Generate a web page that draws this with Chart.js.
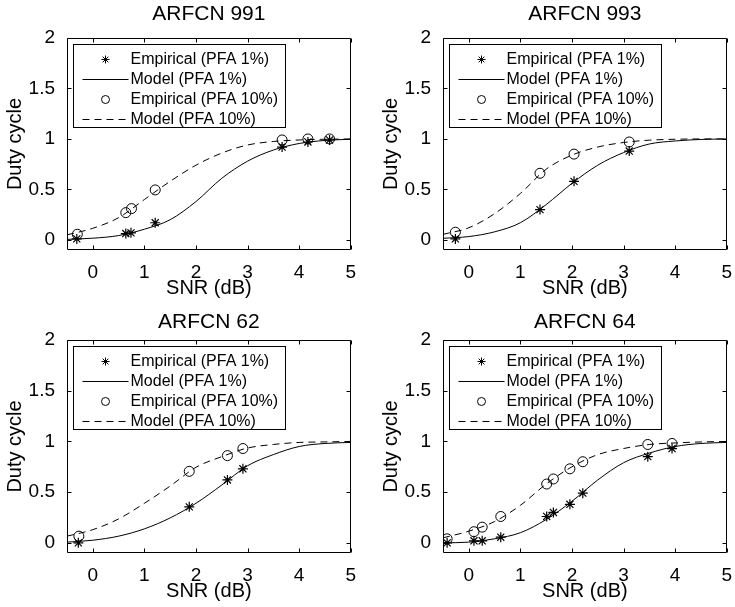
<!DOCTYPE html>
<html>
<head>
<meta charset="utf-8">
<script src="https://cdn.jsdelivr.net/npm/chart.js@4.4.1/dist/chart.umd.min.js"></script>
<style>
  html, body { margin: 0; padding: 0; background: #fff; overflow: hidden; }
  #fig { position: relative; width: 735px; height: 607px; background: #fff; }
  .panel { position: absolute; }
</style>
</head>
<body>
<div id="fig">
  <canvas id="c991" class="panel" width="359" height="302" style="left:0;top:0"></canvas>
  <canvas id="c993" class="panel" width="359" height="302" style="left:376px;top:0"></canvas>
  <canvas id="c62" class="panel" width="359" height="303" style="left:0;top:302px"></canvas>
  <canvas id="c64" class="panel" width="359" height="303" style="left:376px;top:302px"></canvas>
</div>
<script>
// axis ticks
const xTicks = [0, 1, 2, 3, 4, 5];
const yTicks = [0, 0.5, 1, 1.5, 2];

const modelSnr = [-0.5, 0, 0.5, 1, 1.5, 2, 2.5, 3, 3.5, 4, 4.5, 5];

// ARFCN 991
const snr991Pfa1 = [-0.31, 0.64, 0.74, 1.21, 3.67, 4.17, 4.59];
const duty991Pfa1 = [0.01, 0.063, 0.07, 0.17, 0.92, 0.97, 0.99];
const snr991Pfa10 = [-0.3, 0.64, 0.75, 1.21, 3.67, 4.17, 4.59];
const duty991Pfa10 = [0.056, 0.27, 0.31, 0.495, 0.99, 1.0, 1.0];
const model991Pfa1 = [0.005, 0.017, 0.043, 0.106, 0.2, 0.38, 0.61, 0.78, 0.89, 0.955, 0.985, 0.997];
const model991Pfa10 = [0.05, 0.115, 0.22, 0.4, 0.58, 0.74, 0.86, 0.94, 0.975, 0.99, 0.997, 1.0];

// ARFCN 993
const snr993Pfa1 = [-0.26, 1.38, 2.04, 3.11];
const duty993Pfa1 = [0.01, 0.30, 0.58, 0.88];
const snr993Pfa10 = [-0.26, 1.38, 2.04, 3.11];
const duty993Pfa10 = [0.076, 0.66, 0.85, 0.97];
const model993Pfa1 = [0.016, 0.033, 0.08, 0.17, 0.35, 0.56, 0.74, 0.865, 0.95, 0.98, 0.995, 1.0];
const model993Pfa10 = [0.055, 0.12, 0.26, 0.46, 0.70, 0.84, 0.92, 0.965, 0.988, 0.997, 1.0, 1.0];

// ARFCN 62
const snr62Pfa1 = [-0.28, 1.87, 2.61, 2.91];
const duty62Pfa1 = [0.0, 0.355, 0.62, 0.73];
const snr62Pfa10 = [-0.27, 1.87, 2.61, 2.91];
const duty62Pfa10 = [0.066, 0.705, 0.86, 0.93];
const model62Pfa1 = [0.007, 0.026, 0.066, 0.138, 0.246, 0.39, 0.57, 0.76, 0.87, 0.95, 0.98, 0.99];
const model62Pfa10 = [0.066, 0.13, 0.236, 0.39, 0.56, 0.745, 0.85, 0.935, 0.97, 0.99, 0.995, 1.0];

// ARFCN 64
const snr64Pfa1 = [-0.42, 0.1, 0.26, 0.62, 1.51, 1.64, 1.96, 2.21, 3.47, 3.94];
const duty64Pfa1 = [0.0, 0.02, 0.02, 0.056, 0.26, 0.30, 0.38, 0.49, 0.85, 0.93];
const snr64Pfa10 = [-0.42, 0.1, 0.26, 0.62, 1.51, 1.64, 1.96, 2.21, 3.47, 3.94];
const duty64Pfa10 = [0.04, 0.11, 0.155, 0.26, 0.58, 0.63, 0.73, 0.80, 0.97, 0.98];
const model64Pfa1 = [0.0, 0.007, 0.04, 0.1, 0.23, 0.41, 0.62, 0.79, 0.885, 0.95, 0.98, 0.99];
const model64Pfa10 = [0.05, 0.115, 0.21, 0.37, 0.58, 0.75, 0.87, 0.93, 0.97, 0.985, 0.995, 1.0];

const FONT = '"Liberation Sans", Arial, Helvetica, sans-serif';

function pts(xs, ys) {
    return xs.map((x, i) => ({ x: x, y: ys[i] }));
}

function drawStar(ctx, x, y, r) {
    const d = r * Math.SQRT1_2;
    ctx.beginPath();
    ctx.moveTo(x - r, y); ctx.lineTo(x + r, y);
    ctx.moveTo(x, y - r); ctx.lineTo(x, y + r);
    ctx.moveTo(x - d, y - d); ctx.lineTo(x + d, y + d);
    ctx.moveTo(x - d, y + d); ctx.lineTo(x + d, y - d);
    ctx.stroke();
}

// matlab style box with inward ticks, plus the legend inside the axes
const axesBox = {
    id: 'axesBox',
    afterDatasetsDraw(chart) {
        const { ctx, chartArea: a } = chart;
        const xs = chart.scales.x, ys = chart.scales.y;
        ctx.save();
        ctx.strokeStyle = '#000';
        ctx.lineWidth = 1;
        ctx.setLineDash([]);
        const l = Math.round(a.left) + 0.5, r = Math.round(a.right) - 0.5;
        const t = Math.round(a.top) + 0.5, b = Math.round(a.bottom) - 0.5;
        ctx.beginPath();
        ctx.rect(l, t, r - l, b - t);
        xTicks.forEach(v => {
            const px = Math.round(xs.getPixelForValue(v)) + 0.5;
            ctx.moveTo(px, b); ctx.lineTo(px, b - 4);
            ctx.moveTo(px, t); ctx.lineTo(px, t + 4);
        });
        yTicks.forEach(v => {
            const py = Math.round(ys.getPixelForValue(v)) + 0.5;
            ctx.moveTo(l, py); ctx.lineTo(l + 4, py);
            ctx.moveTo(r, py); ctx.lineTo(r - 4, py);
        });
        ctx.stroke();

        // legend
        const bx = l + 6, by = t + 6, bw = 212, bh = 83;
        ctx.fillStyle = '#fff';
        ctx.fillRect(bx, by, bw, bh);
        ctx.strokeRect(bx, by, bw, bh);
        ctx.font = '16px ' + FONT;
        ctx.textBaseline = 'middle';
        ctx.textAlign = 'left';
        chart.data.datasets.forEach((ds, i) => {
            const cy = Math.round(by + 14.5 + i * 20) + 0.5;
            ctx.strokeStyle = '#000';
            ctx.lineWidth = 1;
            if (ds.showLine) {
                ctx.setLineDash(ds.borderDash || []);
                ctx.beginPath();
                ctx.moveTo(bx + 9, cy); ctx.lineTo(bx + 55, cy);
                ctx.stroke();
                ctx.setLineDash([]);
            } else if (ds.pointStyle === 'star') {
                drawStar(ctx, bx + 32, cy, 4);
            } else {
                ctx.beginPath();
                ctx.arc(bx + 32, cy, 4, 0, Math.PI * 2);
                ctx.stroke();
            }
            ctx.fillStyle = '#000';
            ctx.fillText(ds.label, bx + 57, cy);
        });
        ctx.restore();
    }
};

function makePanel(id, title, titleTop, snr1, duty1, model1, snr10, duty10, model10) {
    const ctx = document.getElementById(id).getContext('2d');
    return new Chart(ctx, {
        type: 'scatter',
        data: {
            datasets: [
                {
                    label: 'Empirical (PFA 1%)',
                    data: pts(snr1, duty1),
                    pointStyle: 'star',
                    pointRadius: 5,
                    pointBorderWidth: 1.2,
                    borderColor: '#000',
                    backgroundColor: 'transparent',
                    showLine: false
                },
                {
                    label: 'Model (PFA 1%)',
                    data: pts(modelSnr, model1),
                    showLine: true,
                    pointRadius: 0,
                    borderColor: '#000',
                    borderWidth: 1,
                    cubicInterpolationMode: 'monotone',
                    fill: false
                },
                {
                    label: 'Empirical (PFA 10%)',
                    data: pts(snr10, duty10),
                    pointStyle: 'circle',
                    pointRadius: 5,
                    pointBorderWidth: 1,
                    borderColor: '#000',
                    backgroundColor: 'transparent',
                    showLine: false
                },
                {
                    label: 'Model (PFA 10%)',
                    data: pts(modelSnr, model10),
                    showLine: true,
                    pointRadius: 0,
                    borderColor: '#000',
                    borderWidth: 1,
                    borderDash: [7, 5],
                    cubicInterpolationMode: 'monotone',
                    fill: false
                }
            ]
        },
        options: {
            responsive: false,
            animation: false,
            devicePixelRatio: 1,
            layout: { padding: { left: 0, right: 6.5, top: 0, bottom: 0 } },
            plugins: {
                legend: { display: false },
                tooltip: { enabled: false },
                title: {
                    display: true,
                    text: title,
                    color: '#000',
                    fullSize: false,
                    font: { family: FONT, size: 21, weight: 'normal' },
                    padding: { top: titleTop, bottom: 38 - titleTop - 25.2 }
                }
            },
            scales: {
                x: {
                    type: 'linear',
                    min: -0.5,
                    max: 5,
                    afterBuildTicks: s => { s.ticks = xTicks.map(v => ({ value: v })); },
                    afterFit: s => { s.height = 52; },
                    grid: { display: false },
                    border: { display: false },
                    ticks: {
                        color: '#000',
                        font: { family: FONT, size: 19 },
                        padding: 3,
                        maxRotation: 0,
                        autoSkip: false,
                        callback: v => String(v)
                    },
                    title: {
                        display: true,
                        text: 'SNR (dB)',
                        color: '#000',
                        font: { family: FONT, size: 20 },
                        padding: { top: 0, bottom: 2 }
                    }
                },
                y: {
                    type: 'linear',
                    min: -0.1,
                    max: 2,
                    afterBuildTicks: s => { s.ticks = yTicks.map(v => ({ value: v })); },
                    afterFit: s => { s.width = 67; },
                    grid: { display: false },
                    border: { display: false },
                    ticks: {
                        color: '#000',
                        font: { family: FONT, size: 19 },
                        padding: 4,
                        autoSkip: false,
                        callback: v => String(v)
                    },
                    title: {
                        display: true,
                        text: 'Duty cycle',
                        color: '#000',
                        font: { family: FONT, size: 20 },
                        padding: { top: 3, bottom: 0 }
                    }
                }
            }
        },
        plugins: [axesBox]
    });
}

makePanel('c991', 'ARFCN 991', 2, snr991Pfa1, duty991Pfa1, model991Pfa1, snr991Pfa10, duty991Pfa10, model991Pfa10);
makePanel('c993', 'ARFCN 993', 2, snr993Pfa1, duty993Pfa1, model993Pfa1, snr993Pfa10, duty993Pfa10, model993Pfa10);
makePanel('c62', 'ARFCN 62', 8, snr62Pfa1, duty62Pfa1, model62Pfa1, snr62Pfa10, duty62Pfa10, model62Pfa10);
makePanel('c64', 'ARFCN 64', 8, snr64Pfa1, duty64Pfa1, model64Pfa1, snr64Pfa10, duty64Pfa10, model64Pfa10);
</script>
</body>
</html>
